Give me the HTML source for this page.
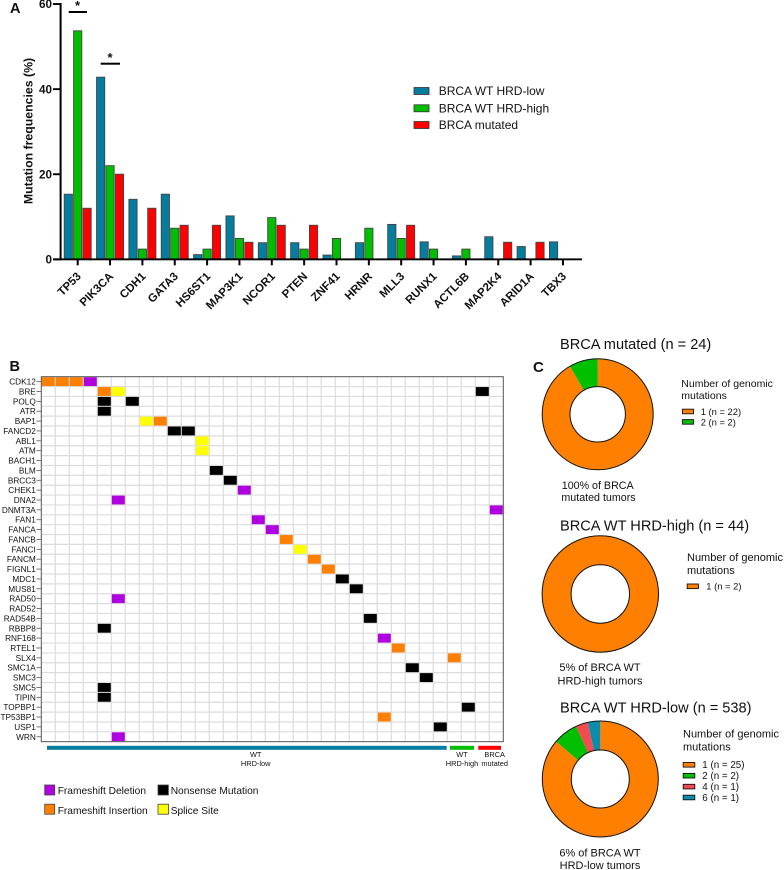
<!DOCTYPE html>
<html lang="en">
<head>
<meta charset="utf-8">
<title>Mutation frequencies, oncoprint and mutation burden</title>
<style>
html,body{margin:0;padding:0;background:#fff;}
svg{display:block;font-family:"Liberation Sans",sans-serif;filter:blur(0.3px);}
text{fill:#111;}
</style>
</head>
<body>
<svg id="fig" width="784" height="870" viewBox="0 0 784 870" xmlns="http://www.w3.org/2000/svg">
  <g id="panelA">
    <text x="10" y="13" font-size="14.5" font-weight="bold">A</text>
    <text transform="translate(32.5,131) rotate(-90)" text-anchor="middle" font-size="12.3" font-weight="bold">Mutation frequencies (%)</text>
    <text x="77.5" y="10" text-anchor="middle" font-size="13" font-weight="bold">*</text>
    <rect x="68.7" y="11" width="18.3" height="2" fill="#000"/>
    <text x="110" y="62" text-anchor="middle" font-size="13" font-weight="bold">*</text>
    <rect x="100.7" y="62.7" width="19.3" height="2" fill="#000"/>
    <g>
      <rect x="414" y="87.5" width="15" height="7" fill="#057d9f" stroke="#333" stroke-width="0.8"/>
      <text x="438.7" y="95" font-size="12">BRCA WT HRD-low</text>
      <rect x="414" y="104.8" width="15" height="7" fill="#00be00" stroke="#333" stroke-width="0.8"/>
      <text x="438.7" y="112.3" font-size="12">BRCA WT HRD-high</text>
      <rect x="414" y="121.5" width="15" height="7" fill="#ff0000" stroke="#333" stroke-width="0.8"/>
      <text x="438.7" y="129" font-size="12">BRCA mutated</text>
    </g>
  </g>
  <g id="panelB">
    <text x="9.5" y="371" font-size="14.5" font-weight="bold">B</text>
    <g font-size="7.4" text-anchor="middle">
      <text x="255.7" y="757">WT</text>
      <text x="255.7" y="766">HRD-low</text>
      <text x="462" y="757">WT</text>
      <text x="462" y="766">HRD-high</text>
      <text x="494.7" y="757">BRCA</text>
      <text x="494.7" y="766">mutated</text>
    </g>
    <g font-size="10.2">
      <rect x="44.7" y="785" width="10" height="10" fill="#b000e0" stroke="#444" stroke-width="0.8"/>
      <text x="57.7" y="794">Frameshift Deletion</text>
      <rect x="158" y="785" width="10.4" height="10" fill="#000" stroke="#444" stroke-width="0.8"/>
      <text x="170.7" y="794">Nonsense Mutation</text>
      <rect x="44.7" y="804.2" width="10" height="10" fill="#ff8000" stroke="#444" stroke-width="0.8"/>
      <text x="57.7" y="814">Frameshift Insertion</text>
      <rect x="158" y="804.2" width="10.4" height="10" fill="#ffff00" stroke="#444" stroke-width="0.8"/>
      <text x="170.7" y="814">Splice Site</text>
    </g>
  </g>
  <g id="panelC">
    <text x="533" y="372" font-size="15" font-weight="bold">C</text>
    <text x="560" y="349" font-size="14.6">BRCA mutated (n = 24)</text>
    <text x="681.3" y="387" font-size="10.5">Number of genomic</text>
    <text x="681.3" y="399" font-size="10.5">mutations</text>
    <text x="597.7" y="489" font-size="10.7" text-anchor="middle">100% of BRCA</text>
    <text x="598.5" y="501" font-size="10.7" text-anchor="middle">mutated tumors</text>
    <text x="560" y="530.7" font-size="14.6">BRCA WT HRD-high (n = 44)</text>
    <text x="687" y="561" font-size="11">Number of genomic</text>
    <text x="687" y="574" font-size="11">mutations</text>
    <text x="600" y="671" font-size="11" text-anchor="middle">5% of BRCA WT</text>
    <text x="600" y="684.7" font-size="11" text-anchor="middle">HRD-high tumors</text>
    <text x="560" y="712.3" font-size="14.6">BRCA WT HRD-low (n = 538)</text>
    <text x="683" y="737.3" font-size="11">Number of genomic</text>
    <text x="683" y="750.7" font-size="11">mutations</text>
    <text x="600" y="856.7" font-size="11" text-anchor="middle">6% of BRCA WT</text>
    <text x="600" y="869" font-size="11" text-anchor="middle">HRD-low tumors</text>
  </g>
</svg>
<script>
// ---- Panel A data ----
var barGenes = ['TP53','PIK3CA','CDH1','GATA3','HS6ST1','MAP3K1','NCOR1','PTEN','ZNF41','HRNR','MLL3','RUNX1','ACTL6B','MAP2K4','ARID1A','TBX3'];
var hrdLowValues = [15.3,42.8,14.1,15.3,1.1,10.2,3.9,3.9,1.0,3.9,8.2,4.1,0.8,5.3,3.0,4.1];
var hrdHighValues = [53.7,22.0,2.4,7.3,2.4,4.9,9.8,2.4,4.9,7.3,4.9,2.4,2.4,0,0,0];
var brcaMutValues = [12,20,12,8,8,4,8,8,0,0,8,0,0,4,4,0];
var yTicks = [0,20,40,60];

// ---- Panel B data ----
var oncoGenes = ['CDK12','BRE','POLQ','ATR','BAP1','FANCD2','ABL1','ATM','BACH1','BLM','BRCC3','CHEK1','DNA2','DNMT3A','FAN1','FANCA','FANCB','FANCI','FANCM','FIGNL1','MDC1','MUS81','RAD50','RAD52','RAD54B','RBBP8','RNF168','RTEL1','SLX4','SMC1A','SMC3','SMC5','TIPIN','TOPBP1','TP53BP1','USP1','WRN'];
var oncoSampleCount = 33;
var oncoSamples = [[0,1,2,3],[4,5,31],[4,6],[4],[7,8],[9,10],[11],[11],[],[12],[13],[14],[5],[32],[15],[16],[17],[18],[19],[20],[21],[22],[5],[],[23],[4],[24],[25],[29],[26],[27],[4],[4],[30],[24],[28],[5]];
var oncoTypes = [['ins','ins','ins','del'],['ins','spl','non'],['non','non'],['non'],['spl','ins'],['non','non'],['spl'],['spl'],[],['non'],['non'],['del'],['del'],['del'],['del'],['del'],['ins'],['spl'],['ins'],['ins'],['non'],['non'],['del'],[],['non'],['non'],['del'],['ins'],['ins'],['non'],['non'],['non'],['non'],['non'],['ins'],['non'],['del']];

// ---- Panel C data ----
var donutMutatedValues = [22,2];
var donutMutatedLabels = ['1 (n = 22)','2 (n = 2)'];
var donutHighValues = [2];
var donutHighLabels = ['1 (n = 2)'];
var donutLowValues = [25,2,1,1];
var donutLowLabels = ['1 (n = 25)','2 (n = 2)','4 (n = 1)','6 (n = 1)'];

// ---- Helpers ----
var NS = 'http://www.w3.org/2000/svg';
function mk(tag, parent, attrs) {
  var e = document.createElementNS(NS, tag);
  for (var k in attrs) { e.setAttribute(k, attrs[k]); }
  parent.appendChild(e);
  return e;
}

// ---- Panel A ----
var panelA = document.getElementById('panelA');
function yA(v) { return 259.3 - v * 4.255; }
function xA(i) { return 77.7 + i * 32.35; }
var seriesList = [hrdLowValues, hrdHighValues, brcaMutValues];
var seriesNames = ['hrd-low', 'hrd-high', 'brca-mutated'];
var seriesColors = ['#057d9f', '#00be00', '#ff0000'];
barGenes.forEach(function (gene, i) {
  seriesList.forEach(function (vals, s) {
    var top = yA(vals[i]);
    var bar = mk('rect', panelA, {x: xA(i) + (s - 1) * 9.4 - 4.1, y: top, width: 8.2, height: Math.max(0, yA(0) - top), fill: seriesColors[s], stroke: '#444', 'stroke-width': 0.9});
    
    
  });
  var tick = mk('rect', panelA, {x: xA(i) - 1, y: yA(0), width: 2, height: 6, fill: '#000'});
  
  
  var lab = mk('text', panelA, {x: 0, y: 0, 'text-anchor': 'end', 'font-size': 11.5, 'font-weight': 'bold', transform: 'translate(' + (xA(i) + 4) + ',277) rotate(-45)'});
  lab.textContent = gene;
  
  
});
var xAxis = mk('rect', panelA, {x: 53, y: yA(0) - 0.9, width: 529, height: 1.9, fill: '#000'});


var yAxis = mk('rect', panelA, {x: 59.6, y: yA(60) - 1, width: 2, height: yA(0) - yA(60) + 2, fill: '#000'});


yTicks.forEach(function (t) {
  var tk = mk('rect', panelA, {x: 53, y: yA(t) - 0.9, width: 7, height: 1.9, fill: '#000'});
  
  
  var lb = mk('text', panelA, {x: 52, y: yA(t) + 4.2, 'text-anchor': 'end', 'font-size': 11.7, 'font-weight': 'bold'});
  lb.textContent = t;
  
  
});

// ---- Panel B ----
var panelB = document.getElementById('panelB');
var oL = 41.3, oT = 376.7, oCol = 14, oRow = 365 / 37;
function xB(c) { return oL + c * oCol; }
function yB(r) { return oT + r * oRow; }
var typeColors = {ins: '#ff8000', del: '#b000e0', non: '#000000', spl: '#ffff00'};
var gridG = mk('g', panelB, {stroke: '#dcdcdc', 'stroke-width': 1.2});


for (var c = 1; c < oncoSampleCount; c++) {
  var vl = mk('line', gridG, {x1: xB(c), x2: xB(c), y1: yB(0), y2: yB(oncoGenes.length)});
  
  
}
for (var r = 1; r < oncoGenes.length; r++) {
  var hl = mk('line', gridG, {x1: xB(0), x2: xB(oncoSampleCount), y1: yB(r), y2: yB(r)});
  
  
}
oncoGenes.forEach(function (gene, r) {
  var lab = mk('text', panelB, {x: 35.8, y: yB(r) + oRow / 2 + 3, 'text-anchor': 'end', 'font-size': 8.25});
  lab.textContent = gene;
  
  
  var tk = mk('line', panelB, {x1: 36.5, x2: oL, y1: yB(r) + oRow / 2, y2: yB(r) + oRow / 2, stroke: '#555', 'stroke-width': 0.8});
  
  
  oncoSamples[r].forEach(function (sample, j) {
    var cell = mk('rect', panelB, {x: xB(sample) + 0.5, y: yB(r) + 0.5, width: oCol - 1, height: oRow - 1, fill: typeColors[oncoTypes[r][j]]});
    
    
  });
});
var frame = mk('rect', panelB, {x: oL, y: oT, width: oCol * oncoSampleCount, height: oRow * oncoGenes.length, fill: 'none', stroke: '#555', 'stroke-width': 1});


var cohortBar1 = mk('rect', panelB, {x: 47, y: 745.8, width: 399.7, height: 4, fill: '#057d9f'});


var cohortBar2 = mk('rect', panelB, {x: 450, y: 745.8, width: 24, height: 4, fill: '#00be00'});


var cohortBar3 = mk('rect', panelB, {x: 478.3, y: 745.8, width: 22.7, height: 4, fill: '#ff0000'});



// ---- Panel C ----
var panelC = document.getElementById('panelC');
var donutColors = ['#ff8000', '#00be00', '#f24b50', '#0a8caa'];
function drawDonut(name, values, cx, cy, R, ri) {
  var total = values.reduce(function (a, b) { return a + b; }, 0);
  var acc = 0;
  values.forEach(function (v, i) {
    var a0 = acc / total * 2 * Math.PI;
    acc += v;
    var a1 = acc / total * 2 * Math.PI;
    var slice;
    if (v >= total) {
      slice = mk('circle', panelC, {cx: cx, cy: cy, r: (R + ri) / 2, fill: 'none', stroke: donutColors[i], 'stroke-width': R - ri});
    } else {
      var large = (a1 - a0) > Math.PI ? 1 : 0;
      var d = 'M' + (cx + R * Math.sin(a0)) + ' ' + (cy - R * Math.cos(a0)) +
        'A' + R + ' ' + R + ' 0 ' + large + ' 1 ' + (cx + R * Math.sin(a1)) + ' ' + (cy - R * Math.cos(a1)) +
        'L' + (cx + ri * Math.sin(a1)) + ' ' + (cy - ri * Math.cos(a1)) +
        'A' + ri + ' ' + ri + ' 0 ' + large + ' 0 ' + (cx + ri * Math.sin(a0)) + ' ' + (cy - ri * Math.cos(a0)) + 'Z';
      slice = mk('path', panelC, {d: d, fill: donutColors[i], stroke: 'none'});
    }
    
    
  });
  var outer = mk('circle', panelC, {cx: cx, cy: cy, r: R, fill: 'none', stroke: '#111', 'stroke-width': 1});
  
  
  var inner = mk('circle', panelC, {cx: cx, cy: cy, r: ri, fill: '#fff', stroke: '#111', 'stroke-width': 1});
  
  
}
function drawDonutLegend(name, labels, sx, sw, tx, startY, step, fs) {
  labels.forEach(function (label, i) {
    var y = startY + i * step;
    var sq = mk('rect', panelC, {x: sx, y: y, width: sw, height: 4.6, fill: donutColors[i], stroke: '#111', 'stroke-width': 0.9});
    
    
    var t = mk('text', panelC, {x: tx, y: y + 5.7, 'font-size': fs});
    t.textContent = label;
    
    
  });
}
drawDonut('mutated', donutMutatedValues, 597.7, 414.3, 55.5, 27.7);
drawDonutLegend('mutated', donutMutatedLabels, 682.5, 11, 700.7, 409.2, 10.4, 9.4);
drawDonut('high', donutHighValues, 600.3, 594, 58.2, 29.2);
drawDonutLegend('high', donutHighLabels, 687.2, 11.2, 706.3, 584, 10.4, 9.4);
drawDonut('low', donutLowValues, 600.3, 779, 58, 29);
drawDonutLegend('low', donutLowLabels, 683.2, 11.6, 702.3, 762.5, 10.9, 9.8);
</script>
</body>
</html>
